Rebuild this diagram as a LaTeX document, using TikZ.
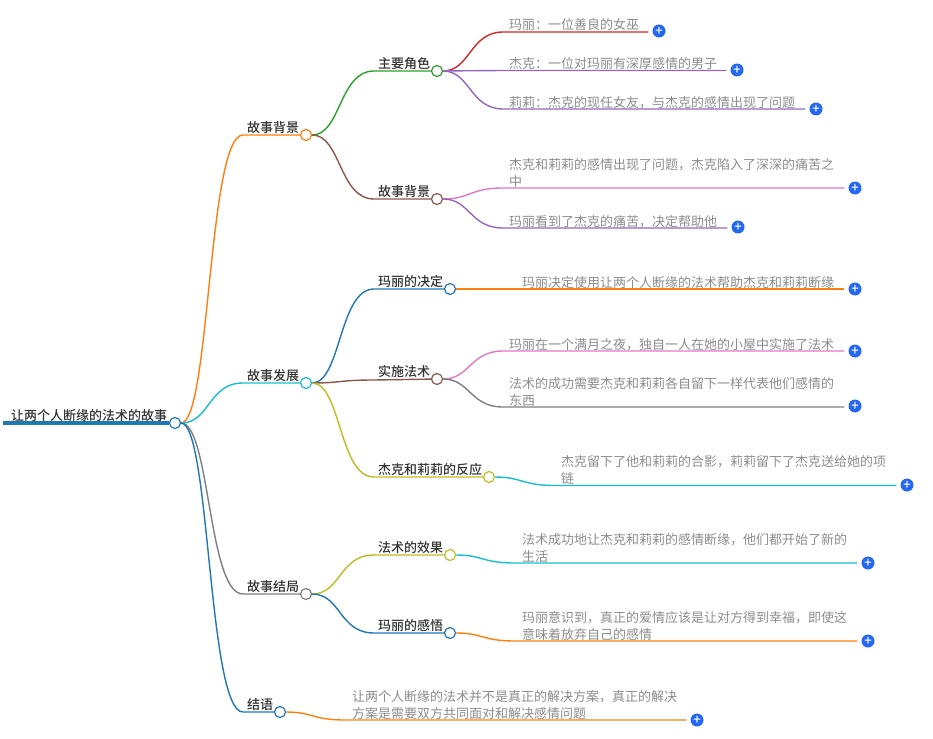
\documentclass[tikz,border=0pt]{standalone}
\usepackage{fontspec}
\setmainfont[BoldFont={Noto Sans CJK SC Medium}]{Noto Sans CJK SC}
\usetikzlibrary{positioning}
\definecolor{lineblue}{HTML}{1F77B4}
\definecolor{lineorange}{HTML}{FF7F0E}
\definecolor{linegreen}{HTML}{2CA02C}
\definecolor{linered}{HTML}{D62728}
\definecolor{linepurple}{HTML}{9467BD}
\definecolor{linebrown}{HTML}{8C564B}
\definecolor{linepink}{HTML}{E377C2}
\definecolor{linegray}{HTML}{7F7F7F}
\definecolor{lineolive}{HTML}{BCBD22}
\definecolor{linecyan}{HTML}{17BECF}
\definecolor{plusblue}{HTML}{2468F2}
\newcommand{\cncolon}{\symbol{"FF1A}}
\newcommand{\cncomma}{\symbol{"FF0C}}

\begin{document}
\begin{tikzpicture}[
        x=1pt,
        y=-1pt,
        dot/.style={
            circle,
            draw,
            fill=white,
            line width=1.2pt,
            minimum size=11pt,
            inner sep=0pt
        },
        plus/.style={
            circle,
            fill=plusblue,
            text=white,
            minimum size=13pt,
            inner sep=0pt,
            font=\fontsize{13}{13}\selectfont\bfseries
        },
        topic/.style={
            anchor=south west,
            inner sep=0pt,
            text=black!80,
            font=\fontsize{13}{17}\selectfont\bfseries
        },
        leaf/.style={
            anchor=south west,
            inner sep=0pt,
            align=left,
            text=black!45,
            font=\fontsize{13}{17}\selectfont
        },
        line/.style={
            draw,
            line width=1.4pt
        },
        tail/.style={
            line,
            shorten >=4pt
        }
    ]
        \useasboundingbox (0,0) rectangle (933,738);

        % Nodes
        \coordinate (start) at (3,423);
        \node [dot, draw=lineblue] (root) at (175,423) {};
        \node [dot, draw=lineorange] (background) at (306,135) {};
        \node [dot, draw=linecyan] (develop) at (306,383) {};
        \node [dot, draw=linegray] (ending) at (306,594) {};
        \node [dot, draw=lineblue] (closing) at (280,712) {};
        \node [dot, draw=linegreen] (roles) at (437,71) {};
        \node [dot, draw=linebrown] (story) at (437,199) {};
        \node [dot, draw=lineblue] (decide) at (450,289) {};
        \node [dot, draw=linebrown] (spell) at (437,379) {};
        \node [dot, draw=lineolive] (react) at (489,477) {};
        \node [dot, draw=lineolive] (effect) at (450,555) {};
        \node [dot, draw=lineblue] (feeling) at (450,633) {};

        \node [plus] (plusmary) at (659,31) {+};
        \node [plus] (plusjack) at (737,70) {+};
        \node [plus] (pluslily) at (816,109) {+};
        \node [plus] (pluspain) at (855,188) {+};
        \node [plus] (plushelp) at (738,227) {+};
        \node [plus] (plusdecide) at (855,289) {+};
        \node [plus] (plusmoon) at (855,351) {+};
        \node [plus] (plustoken) at (855,406) {+};
        \node [plus] (plusphoto) at (907,485) {+};
        \node [plus] (plusnew) at (868,563) {+};
        \node [plus] (plusgive) at (868,641) {+};
        \node [plus] (plusface) at (697,720) {+};

        % Labels
        \node [topic] (roottext) at (11,422) {让两个人断缘的法术的故事};
        \node [topic] (backtext) at (247,134) {故事背景};
        \node [topic] (devtext) at (247,382) {故事发展};
        \node [topic] (endtext) at (247,593) {故事结局};
        \node [topic] (closetext) at (247,711) {结语};
        \node [topic] (rolestext) at (378,70) {主要角色};
        \node [topic] (storytext) at (378,198) {故事背景};
        \node [topic] (decidetext) at (378,288) {玛丽的决定};
        \node [topic] (spelltext) at (378,378) {实施法术};
        \node [topic] (reacttext) at (378,476) {杰克和莉莉的反应};
        \node [topic] (effecttext) at (378,554) {法术的效果};
        \node [topic] (feelingtext) at (378,632) {玛丽的感悟};

        \node [leaf] (marytext) at (509,31) {玛丽\cncolon{}一位善良的女巫};
        \node [leaf] (jacktext) at (509,70) {杰克\cncolon{}一位对玛丽有深厚感情的男子};
        \node [leaf] (lilytext) at (509,109) {莉莉\cncolon{}杰克的现任女友\cncomma{}与杰克的感情出现了问题};
        \node [leaf] (paintext) at (509,188) {杰克和莉莉的感情出现了问题\cncomma{}杰克陷入了深深的痛苦之\\中};
        \node [leaf] (helptext) at (509,228) {玛丽看到了杰克的痛苦\cncomma{}决定帮助他};
        \node [leaf] (usetext) at (522,289) {玛丽决定使用让两个人断缘的法术帮助杰克和莉莉断缘};
        \node [leaf] (moontext) at (509,351) {玛丽在一个满月之夜\cncomma{}独自一人在她的小屋中实施了法术};
        \node [leaf] (tokentext) at (509,407) {法术的成功需要杰克和莉莉各自留下一样代表他们感情的\\东西};
        \node [leaf] (phototext) at (561,485) {杰克留下了他和莉莉的合影\cncomma{}莉莉留下了杰克送给她的项\\链};
        \node [leaf] (newtext) at (522,563) {法术成功地让杰克和莉莉的感情断缘\cncomma{}他们都开始了新的\\生活};
        \node [leaf] (givetext) at (522,641) {玛丽意识到\cncomma{}真正的爱情应该是让对方得到幸福\cncomma{}即使这\\意味着放弃自己的感情};
        \node [leaf] (facetext) at (352,720) {让两个人断缘的法术并不是真正的解决方案\cncomma{}真正的解决\\方案是需要双方共同面对和解决感情问题};

        % Bends
        \coordinate (kback) at (243,135);
        \coordinate (kdev) at (243,383);
        \coordinate (kend) at (243,594);
        \coordinate (kclose) at (243,712);
        \coordinate (kroles) at (374,71);
        \coordinate (kstory) at (374,199);
        \coordinate (kdecide) at (374,289);
        \coordinate (kspell) at (374,380);
        \coordinate (kreact) at (374,477);
        \coordinate (keffect) at (374,555);
        \coordinate (kfeeling) at (374,633);
        \coordinate (kmary) at (503,32);
        \coordinate (kjack) at (503,70.5);
        \coordinate (klily) at (503,109);
        \coordinate (kpain) at (503,188);
        \coordinate (khelp) at (503,228);
        \coordinate (kmoon) at (503,351);
        \coordinate (ktoken) at (503,407);
        \coordinate (kphoto) at (555,485.5);
        \coordinate (knew) at (515,563);
        \coordinate (kgive) at (515,641);
        \coordinate (kface) at (345,720);

        % Paths
        \path [draw=lineblue, line width=3.4pt] (start) -- (root);
        \path [line, draw=lineorange] (root) .. controls +(35,0) and +(-35,0) .. (kback) -- (background);
        \path [line, draw=linecyan] (root) .. controls +(35,0) and +(-35,0) .. (kdev) -- (develop);
        \path [line, draw=linegray] (root) .. controls +(35,0) and +(-35,0) .. (kend) -- (ending);
        \path [line, draw=lineblue] (root) .. controls +(35,0) and +(-35,0) .. (kclose) -- (closing);

        \path [line, draw=linegreen] (background) .. controls +(35,0) and +(-35,0) .. (kroles) -- (roles);
        \path [line, draw=linebrown] (background) .. controls +(35,0) and +(-35,0) .. (kstory) -- (story);
        \path [line, draw=lineblue] (develop) .. controls +(35,0) and +(-35,0) .. (kdecide) -- (decide);
        \path [line, draw=linebrown] (develop) .. controls +(35,0) and +(-35,0) .. (kspell) -- (spell);
        \path [line, draw=lineolive] (develop) .. controls +(35,0) and +(-35,0) .. (kreact) -- (react);
        \path [line, draw=lineolive] (ending) .. controls +(35,0) and +(-35,0) .. (keffect) -- (effect);
        \path [line, draw=lineblue] (ending) .. controls +(35,0) and +(-35,0) .. (kfeeling) -- (feeling);

        \path [tail, draw=linered] (roles) .. controls +(33,0) and +(-33,0) .. (kmary) -- (plusmary.west |- kmary);
        \path [tail, draw=linepurple] (roles) -- (kjack) -- (plusjack.west |- kjack);
        \path [tail, draw=linepurple] (roles) .. controls +(33,0) and +(-33,0) .. (klily) -- (pluslily.west |- klily);
        \path [tail, draw=linepink] (story) .. controls +(33,0) and +(-33,0) .. (kpain) -- (pluspain.west |- kpain);
        \path [tail, draw=linepurple] (story) .. controls +(33,0) and +(-33,0) .. (khelp) -- (plushelp.west |- khelp);
        \path [tail, draw=lineorange] (decide) -- (plusdecide);
        \path [tail, draw=linepink] (spell) .. controls +(33,0) and +(-33,0) .. (kmoon) -- (plusmoon.west |- kmoon);
        \path [tail, draw=linegray] (spell) .. controls +(33,0) and +(-33,0) .. (ktoken) -- (plustoken.west |- ktoken);
        \path [tail, draw=linecyan] (react) .. controls +(33,0) and +(-33,0) .. (kphoto) -- (plusphoto.west |- kphoto);
        \path [tail, draw=linecyan] (effect) .. controls +(33,0) and +(-33,0) .. (knew) -- (plusnew.west |- knew);
        \path [tail, draw=lineorange] (feeling) .. controls +(33,0) and +(-33,0) .. (kgive) -- (plusgive.west |- kgive);
        \path [tail, draw=lineorange] (closing) .. controls +(33,0) and +(-33,0) .. (kface) -- (plusface.west |- kface);
    \end{tikzpicture}
\end{document}
